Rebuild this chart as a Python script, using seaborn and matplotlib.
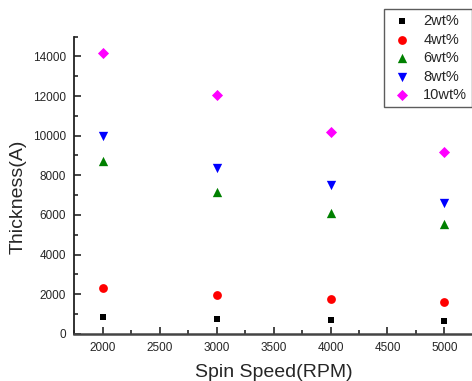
import numpy as np
import pandas as pd
import matplotlib
matplotlib.use('Agg')
import matplotlib.pyplot as plt
from matplotlib.ticker import MultipleLocator
import seaborn as sns

speeds = [2000, 3000, 4000, 5000]
wt_2 = [850, 730, 680, 660]
wt_4 = [2290, 1980, 1730, 1580]
wt_6 = [8700, 7170, 6120, 5550]
wt_8 = [9990, 8390, 7530, 6600]
wt_10 = [14160, 12030, 10200, 9150]
series_names = ['2wt%', '4wt%', '6wt%', '8wt%', '10wt%']

rows = []
for name, vals in zip(series_names, [wt_2, wt_4, wt_6, wt_8, wt_10]):
    for s, v in zip(speeds, vals):
        rows.append({'speed': s, 'thickness': v, 'conc': name})
df = pd.DataFrame(rows)

sns.set_style('ticks')
plt.rcParams['font.family'] = ['Liberation Sans', 'DejaVu Sans']

fig = plt.figure(figsize=(4.72, 3.81), dpi=100)
ax = fig.add_axes([0.157, 0.124, 0.845, 0.78])

palette = {'2wt%': 'black', '4wt%': 'red', '6wt%': 'green', '8wt%': 'blue', '10wt%': 'magenta'}
markers = {'2wt%': 's', '4wt%': 'o', '6wt%': '^', '8wt%': 'v', '10wt%': 'D'}
sizes = {'2wt%': 22, '4wt%': 40, '6wt%': 45, '8wt%': 45, '10wt%': 32}

for name in series_names:
    sub = df[df['conc'] == name]
    sns.scatterplot(data=sub, x='speed', y='thickness', color=palette[name],
                    marker=markers[name], s=sizes[name], linewidth=0,
                    label=name, ax=ax)

ax.set_xlim(1750, 5250)
ax.set_ylim(0, 15000)
ax.xaxis.set_major_locator(MultipleLocator(500))
ax.xaxis.set_minor_locator(MultipleLocator(250))
ax.yaxis.set_major_locator(MultipleLocator(2000))
ax.yaxis.set_minor_locator(MultipleLocator(1000))
ax.tick_params(which='major', direction='in', length=5, width=1.2, labelsize=8.5, pad=6)
ax.tick_params(which='minor', direction='in', length=3, width=1.2)
ax.spines['top'].set_visible(False)
ax.spines['right'].set_visible(False)
ax.spines['left'].set_linewidth(1.3)
ax.spines['bottom'].set_linewidth(1.8)
ax.spines['left'].set_color('#222222')
ax.spines['bottom'].set_color('#444444')

ax.set_xlabel('Spin Speed(RPM)', fontsize=14, labelpad=7)
ax.set_ylabel('Thickness(A)', fontsize=14)
ax.yaxis.set_label_coords(-0.12, 0.462)

leg = ax.legend(loc='upper right', bbox_to_anchor=(0.9985, 1.093), fontsize=10.5,
                frameon=True, fancybox=False, edgecolor='#333333',
                handletextpad=0.56, borderpad=0.35, labelspacing=0.31,
                handlelength=1.76, borderaxespad=0)
leg.get_frame().set_linewidth(1.0)

fig.savefig('out.png', dpi=100)
